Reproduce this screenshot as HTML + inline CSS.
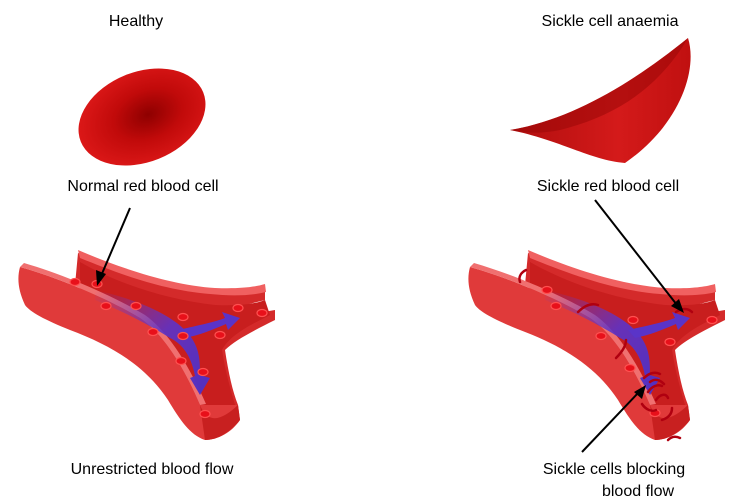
<!DOCTYPE html>
<html><head><style>
html,body{margin:0;padding:0;background:#fff;}
svg{display:block;}
text{font-family:"Liberation Sans",Arial,sans-serif;font-size:16px;fill:#000;}
</style></head><body>
<svg width="750" height="500" viewBox="0 0 750 500">
<defs>
<radialGradient id="cellg" cx="0.55" cy="0.5" r="0.6">
<stop offset="0" stop-color="#8e0000"/><stop offset="0.45" stop-color="#c10a0a"/><stop offset="1" stop-color="#e01a1a"/>
</radialGradient>
<linearGradient id="sickg" x1="0" y1="0" x2="1" y2="0">
<stop offset="0" stop-color="#b00e0e"/><stop offset="0.6" stop-color="#d41a1a"/><stop offset="1" stop-color="#c01010"/>
</linearGradient>
<linearGradient id="flow" x1="0" y1="0" x2="1" y2="1">
<stop offset="0" stop-color="#6a3cc8" stop-opacity="0"/><stop offset="0.5" stop-color="#5c33c8" stop-opacity="0.9"/><stop offset="1" stop-color="#5030c0"/>
</linearGradient>
<g id="vessel">
<path d="M78,253 C110,265 150,285 200,290 C230,292 250,292 265,287 L265,300 C245,305 225,310 215,320 L275,310 L275,320 C255,330 235,340 225,350 C228,370 232,390 238,405 L205,435 C190,400 170,360 140,330 C110,310 90,295 75,285 Z" fill="#d42a2a"/>
<path d="M80,262 C120,285 170,300 215,305 C240,306 255,304 265,300 L270,315 C250,325 230,335 222,350 C226,375 232,395 236,408 L210,430 C195,395 175,360 150,335 C120,312 95,295 80,285 Z" fill="#c81e1e"/>
<path d="M78,250 C120,268 170,285 215,288 C240,289 255,287 265,284 L266,292 C250,296 230,296 210,294 C160,290 115,272 80,258 Z" fill="#f06060"/>
<path d="M20,267 C60,278 110,300 140,318 C165,335 185,370 200,405 L238,405 L240,420 C232,432 218,440 205,440 C190,435 180,420 168,400 C145,365 110,345 70,330 C45,320 30,312 25,305 C18,290 17,278 20,267 Z" fill="#e03a3a"/>
<path d="M20,267 C60,278 110,300 140,318 C165,335 185,370 200,405 L206,404 C190,368 170,333 145,315 C112,295 62,274 24,263 Z" fill="#f07070"/>
<path d="M200,405 C208,425 222,420 238,405 L240,420 C230,432 218,440 205,440 Z" fill="#c82020"/>
<path d="M95,290 C140,300 170,315 185,330 C200,345 200,360 200,375 L210,378 L200,395 L190,378 L195,376 C192,360 185,345 170,338 C150,325 120,310 95,300 Z" fill="url(#flow)"/>
<path d="M178,330 C200,325 215,322 225,318 L222,312 L240,318 L228,330 L226,324 C212,330 200,335 185,338 Z" fill="#5a34c8"/>
</g>
<g id="dots" fill="#e8101a" stroke="#ff5050" stroke-width="1.2">
<ellipse cx="75" cy="282" rx="5" ry="3.5"/><ellipse cx="97" cy="284" rx="5" ry="3.5"/>
<ellipse cx="106" cy="306" rx="5" ry="3.5"/><ellipse cx="136" cy="306" rx="5" ry="3.5"/>
<ellipse cx="183" cy="317" rx="5" ry="3.5"/><ellipse cx="238" cy="308" rx="5" ry="3.5"/>
<ellipse cx="262" cy="313" rx="5" ry="3.5"/><ellipse cx="153" cy="332" rx="5" ry="3.5"/>
<ellipse cx="183" cy="336" rx="5" ry="3.5"/><ellipse cx="220" cy="335" rx="5" ry="3.5"/>
<ellipse cx="181" cy="361" rx="5" ry="3.5"/><ellipse cx="203" cy="372" rx="5" ry="3.5"/>
<ellipse cx="205" cy="414" rx="5" ry="3.5"/>
</g>
</defs>

<use href="#vessel"/>
<use href="#dots"/>
<use href="#vessel" x="450"/>
<g fill="#e8101a" stroke="#ff5050" stroke-width="1.2">
<ellipse cx="547" cy="290" rx="5" ry="3.5"/><ellipse cx="556" cy="306" rx="5" ry="3.5"/>
<ellipse cx="633" cy="320" rx="5" ry="3.5"/><ellipse cx="712" cy="320" rx="5" ry="3.5"/>
<ellipse cx="601" cy="336" rx="5" ry="3.5"/><ellipse cx="670" cy="342" rx="5" ry="3.5"/>
<ellipse cx="630" cy="368" rx="5" ry="3.5"/><ellipse cx="655" cy="413" rx="5" ry="3.5"/>
</g>
<g fill="none" stroke="#b00010" stroke-width="2.5" stroke-linecap="round">
<path d="M520,282 C518,276 522,272 526,270"/><path d="M578,312 C585,305 592,303 598,305"/>
<path d="M616,358 C622,352 626,346 626,340"/><path d="M644,378 C650,372 656,372 660,374"/>
<path d="M648,392 C652,386 658,384 662,386"/><path d="M656,400 C660,394 666,393 668,398"/>
<path d="M642,404 C646,410 652,412 656,410"/><path d="M662,420 C668,418 672,414 672,408"/>
<path d="M668,440 C672,436 676,436 680,438"/><path d="M676,312 C682,308 688,308 692,312"/>
<path d="M650,382 C655,378 660,380 664,384"/>
</g>

<ellipse cx="142" cy="117" rx="66" ry="45" transform="rotate(-22 142 117)" fill="url(#cellg)"/>
<path d="M510,130 C570,120 630,85 688,38 C698,70 680,125 625,163 C590,160 560,140 510,130 Z" fill="url(#sickg)"/>
<path d="M510,130 C570,120 630,85 688,38 C660,85 620,115 560,130 C540,134 525,133 510,130 Z" fill="#9a0808" opacity="0.55"/>

<g stroke="#000" stroke-width="2" fill="#000">
<line x1="130" y1="208" x2="101" y2="276"/>
<polygon points="97,286 96,270 106,274" stroke="none"/>
<line x1="595" y1="200" x2="677" y2="305"/>
<polygon points="684,313 671,306 679,299" stroke="none"/>
<line x1="582" y1="452" x2="639" y2="392"/>
<polygon points="646,385 642,399 634,392" stroke="none"/>
</g>

<text x="136" y="26" text-anchor="middle">Healthy</text>
<text x="610" y="26" text-anchor="middle">Sickle cell anaemia</text>
<text x="143" y="191" text-anchor="middle">Normal red blood cell</text>
<text x="608" y="191" text-anchor="middle">Sickle red blood cell</text>
<text x="152" y="474" text-anchor="middle">Unrestricted blood flow</text>
<text x="614" y="474" text-anchor="middle">Sickle cells blocking</text>
<text x="638" y="496" text-anchor="middle">blood flow</text>
</svg>
</body></html>
